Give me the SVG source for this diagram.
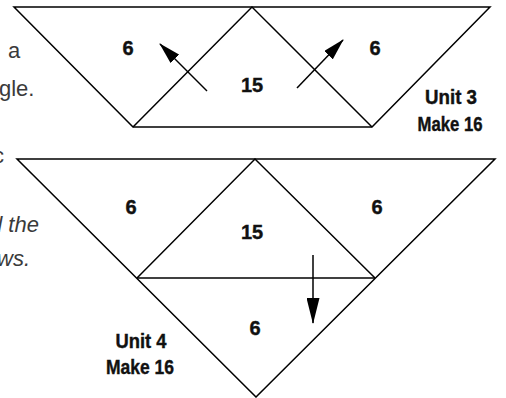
<svg xmlns="http://www.w3.org/2000/svg" width="506" height="398" viewBox="0 0 506 398">
  <style>
    .edge { fill: none; stroke: #000; stroke-width: 1.5; stroke-linejoin: miter; }
    .num { font-family: "Liberation Sans", Arial, sans-serif; font-weight: bold; font-size: 20px; fill: #111; stroke: #111; stroke-width: 0.4; text-anchor: middle; }
    .unit { font-family: "Liberation Sans", Arial, sans-serif; font-weight: bold; font-size: 20px; fill: #111; stroke: #111; stroke-width: 0.4; text-anchor: middle; }
    .body { font-family: "Liberation Sans", Arial, sans-serif; font-size: 22px; fill: #3a3a3a; }
    .it { font-style: italic; }
    .arrow { fill: none; stroke: #000; stroke-width: 1.5; }
  </style>
  <defs>
    <marker id="head" viewBox="0 0 22 12" refX="21" refY="6" markerWidth="22" markerHeight="12" markerUnits="userSpaceOnUse" orient="auto">
      <path d="M0,0 L22,6 L0,12 Z" fill="#000"/>
    </marker>
    <marker id="headLong" viewBox="0 0 26 13" refX="25" refY="6.5" markerWidth="26" markerHeight="13" markerUnits="userSpaceOnUse" orient="auto">
      <path d="M0,0 L26,6.5 L0,13 Z" fill="#000"/>
    </marker>
  </defs>
  <rect width="506" height="398" fill="#fff"/>

  <g id="body-text">
    <text class="body" x="8" y="58">a</text>
    <text class="body" x="-1" y="96">gle.</text>
    <text class="body" x="-7" y="163">c</text>
    <text class="body it" x="-10" y="232">d the</text>
    <text class="body it" x="-3" y="266">ws.</text>
  </g>

  <g id="unit3">
    <polygon class="edge" points="14,7 490,7 372,127 133,127"/>
    <polyline class="edge" points="133,127 252,7 372,127"/>
    <text class="num" x="128" y="55">6</text>
    <text class="num" x="375" y="55">6</text>
    <text class="num" x="252" y="92">15</text>
    <text class="unit" x="451" y="104" textLength="52" lengthAdjust="spacingAndGlyphs">Unit 3</text>
    <text class="unit" x="450" y="131" textLength="65" lengthAdjust="spacingAndGlyphs">Make 16</text>
  </g>

  <g id="unit4">
    <polygon class="edge" points="17,159 495,159 256,397"/>
    <polyline class="edge" points="137,278 255,159 375,278"/>
    <line class="edge" x1="137" y1="278" x2="375" y2="278"/>
    <text class="num" x="131" y="214">6</text>
    <text class="num" x="377" y="214">6</text>
    <text class="num" x="252" y="239">15</text>
    <text class="num" x="255" y="335">6</text>
    <text class="unit" x="141" y="348" textLength="51" lengthAdjust="spacingAndGlyphs">Unit 4</text>
    <text class="unit" x="140" y="374" textLength="68" lengthAdjust="spacingAndGlyphs">Make 16</text>
  </g>

  <g id="connectors">
    <line class="arrow" x1="207" y1="91" x2="160" y2="44" marker-end="url(#head)"/>
    <line class="arrow" x1="297" y1="88" x2="343" y2="40" marker-end="url(#head)"/>
    <line class="arrow" x1="313" y1="255" x2="313" y2="323" marker-end="url(#headLong)"/>
  </g>
</svg>
